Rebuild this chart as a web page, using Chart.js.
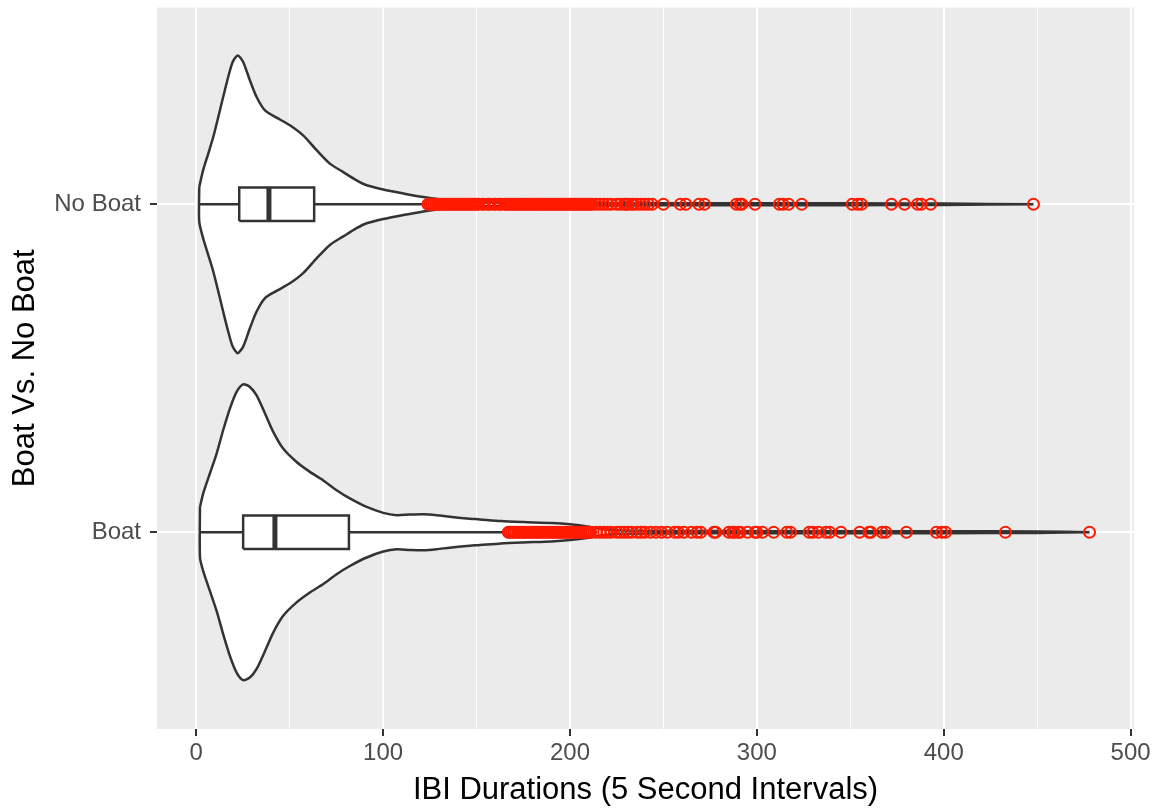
<!DOCTYPE html>
<html><head><meta charset="utf-8">
<script src="https://cdn.jsdelivr.net/npm/chart.js@4.4.1/dist/chart.umd.min.js"></script>
<style>html,body{margin:0;padding:0;background:#fff;} canvas{display:block;}</style>
</head><body>
<canvas id="c" width="1170" height="811"></canvas>
<script>
// ---- data ----
const categories = ['Boat', 'No Boat'];
const categoryPositions = [1, 2];
const xTickLabels = [0, 100, 200, 300, 400, 500];
const xMinorGrid = [50, 150, 250, 350, 450];

// violin profiles: value, half-width (in category units)
const noBoatViolinX = [1.6, 3.7, 6.4, 9.1, 11.8, 14.4, 17.1, 19.5, 22.2, 25.1, 28.7, 32.3, 36.8, 43.0, 50.1, 57.2, 64.4, 71.5, 78.7, 85.8, 91.2, 100.1, 110.8, 121.5, 130, 140, 150, 170, 200, 250, 300, 350, 400, 448];
const noBoatViolinHW = [0.053, 0.104, 0.154, 0.205, 0.266, 0.327, 0.388, 0.434, 0.454, 0.434, 0.378, 0.327, 0.286, 0.264, 0.241, 0.210, 0.165, 0.124, 0.098, 0.073, 0.058, 0.045, 0.033, 0.022, 0.015, 0.009, 0.006, 0.005, 0.004, 0.003, 0.003, 0.003, 0.002, 0];
const boatViolinX = [2.0, 3.7, 7.3, 10.9, 14.4, 18.0, 21.6, 25.1, 28.7, 32.3, 36.8, 41.2, 46.5, 53.7, 60.8, 68.0, 75.1, 82.2, 91.2, 100.1, 107.2, 114.3, 121.5, 128.6, 135.7, 144.7, 151.8, 163, 175, 190, 200, 210, 218, 228, 250, 300, 350, 400, 450, 478];
const boatViolinHW = [0.077, 0.118, 0.179, 0.240, 0.311, 0.377, 0.428, 0.451, 0.443, 0.417, 0.362, 0.306, 0.255, 0.214, 0.184, 0.158, 0.128, 0.103, 0.077, 0.059, 0.052, 0.054, 0.055, 0.052, 0.047, 0.042, 0.039, 0.034, 0.031, 0.028, 0.024, 0.017, 0.009, 0.005, 0.004, 0.003, 0.003, 0.003, 0.002, 0];

// box stats: lower whisker, Q1, median, Q3, upper whisker
const noBoatBox = [1.6, 23.0, 38.9, 63.1, 122.9];
const boatBox = [2.0, 25.1, 42.1, 81.7, 165.2];
const boxHalfHeight = 0.051;

// outliers
const noBoatOutliers = [124,125,126,127,128,129,130,131,132,133,134,135,136,137,138,139,140,141,142,143,144,145,146,147,148,149,150,151,153,154,156,157,159,160,162,163,165,166,167,168,169,170,171,172,173,174,175,176,177,178,179,180,181,182,183,184,185,186,187,188,189,190,191,192,193,194,195,196,197,198,199,200,201,202,203,204,205,206,207,208,209,210,211,212,214,216,218,220,222,225,227,229,230,231,233,234,236,238,240,242,244,250,259,262,269,272,289,291,292,299,312,314,317,324,351,354,356,372,379,386,388,393,448];
const boatOutliers = [167,168,169,170,171,172,173,174,175,176,177,178,179,180,181,182,183,184,185,186,187,188,189,190,191,192,193,194,195,196,197,198,199,200,201,202,203,204,205,206,207,208,209,210,211,214,216,218,220,222,225,227,229,231,233,236,238,240,243,246,249,252,256,258,261,265,268,270,277,278,285,287,288,290,291,295,299,300,303,309,316,318,328,330,333,337,339,345,355,360,361,367,369,380,396,399,401,433,478];

// ---- builders ----
const DARK = '#333333';
function violinPath(xs, hws, c) {
  const up = xs.map((x, i) => ({x: x, y: c + hws[i]}));
  const lo = xs.map((x, i) => ({x: x, y: c - hws[i]})).reverse();
  return up.concat(lo, [up[0]]);
}
function boxPath(b, c) {
  return [{x: b[1], y: c - boxHalfHeight}, {x: b[3], y: c - boxHalfHeight}, {x: b[3], y: c + boxHalfHeight}, {x: b[1], y: c + boxHalfHeight}, {x: b[1], y: c - boxHalfHeight}];
}
function lineDs(data, width, order) {
  return {data: data, showLine: true, borderColor: DARK, borderWidth: width, pointRadius: 0, fill: false, order: order, tension: 0};
}
const datasets = [];
const groups = [
  {c: categoryPositions[0], vx: boatViolinX, vh: boatViolinHW, box: boatBox, out: boatOutliers},
  {c: categoryPositions[1], vx: noBoatViolinX, vh: noBoatViolinHW, box: noBoatBox, out: noBoatOutliers}
];
groups.forEach(g => {
  datasets.push({data: violinPath(g.vx, g.vh, g.c), showLine: true, borderColor: DARK, borderWidth: 2.5, backgroundColor: '#FFFFFF', fill: 'shape', pointRadius: 0, tension: 0.25, order: 10});
  datasets.push(lineDs([{x: g.box[0], y: g.c}, {x: g.box[1], y: g.c}], 2.5, 8));
  datasets.push(lineDs([{x: g.box[3], y: g.c}, {x: g.box[4], y: g.c}], 2.5, 8));
  const bx = lineDs(boxPath(g.box, g.c), 2.5, 7);
  bx.fill = 'shape'; bx.backgroundColor = '#FFFFFF';
  datasets.push(bx);
  datasets.push(lineDs([{x: g.box[2], y: g.c - boxHalfHeight}, {x: g.box[2], y: g.c + boxHalfHeight}], 5, 6));
  datasets.push({data: g.out.map(v => ({x: v, y: g.c})), showLine: false, pointStyle: 'circle', pointRadius: 5.5, pointBorderWidth: 2, borderColor: '#FF0000', backgroundColor: 'rgba(0,0,0,0)', pointBackgroundColor: 'rgba(0,0,0,0)', pointBorderColor: '#FF1A00', order: 1});
});

const panelBg = {
  id: 'panelBg',
  beforeDraw(chart) {
    const a = chart.chartArea, ctx = chart.ctx;
    ctx.save(); ctx.fillStyle = '#EBEBEB';
    ctx.fillRect(a.left, a.top, a.right - a.left, a.bottom - a.top);
    ctx.restore();
  }
};

const FONT = 'Liberation Sans, Arial, Helvetica, sans-serif';
const xGrid = xTickLabels.concat(xMinorGrid).sort((a, b) => a - b);

new Chart(document.getElementById('c'), {
  type: 'scatter',
  data: {datasets: datasets},
  options: {
    responsive: false, animation: false, devicePixelRatio: 1,
    layout: {padding: {left: 0, top: 7, right: 36, bottom: 0}},
    plugins: {legend: {display: false}, tooltip: {enabled: false}},
    scales: {
      x: {
        type: 'linear', min: -21, max: 501.8,
        afterBuildTicks: s => { s.ticks = xGrid.map(v => ({value: v})); },
        afterFit: s => { s.height = 82; s.paddingLeft = 0; s.paddingRight = 0; },
        border: {display: false},
        grid: {
          color: '#FFFFFF',
          lineWidth: ctx => (xTickLabels.includes(ctx.tick.value) ? 2 : 1),
          tickColor: ctx => (xTickLabels.includes(ctx.tick.value) ? DARK : 'rgba(0,0,0,0)'),
          tickLength: 7, tickWidth: 2
        },
        ticks: {
          autoSkip: false, maxRotation: 0, padding: 3, color: '#4D4D4D',
          font: {family: FONT, size: 24},
          callback: v => (xTickLabels.includes(v) ? String(v) : '')
        },
        title: {display: true, text: 'IBI Durations (5 Second Intervals)', color: '#000000',
          font: {family: FONT, size: 31, lineHeight: 1.2}, padding: {top: 4, bottom: 2}}
      },
      y: {
        type: 'linear', min: 0.4, max: 2.6,
        afterBuildTicks: s => { s.ticks = categoryPositions.map(v => ({value: v})); },
        afterFit: s => { s.width = 157; s.paddingTop = 0; s.paddingBottom = 0; },
        border: {display: false},
        grid: {color: '#FFFFFF', lineWidth: 2, tickColor: DARK, tickLength: 7, tickWidth: 2},
        ticks: {
          autoSkip: false, padding: 9, color: '#4D4D4D',
          font: {family: FONT, size: 24},
          callback: v => { const i = categoryPositions.indexOf(v); return i >= 0 ? categories[i] : ''; }
        },
        title: {display: true, text: 'Boat Vs. No Boat', color: '#000000',
          font: {family: FONT, size: 31, lineHeight: 1.2}, padding: {top: 7, bottom: 4}}
      }
    }
  },
  plugins: [panelBg]
});
</script>
</body></html>
